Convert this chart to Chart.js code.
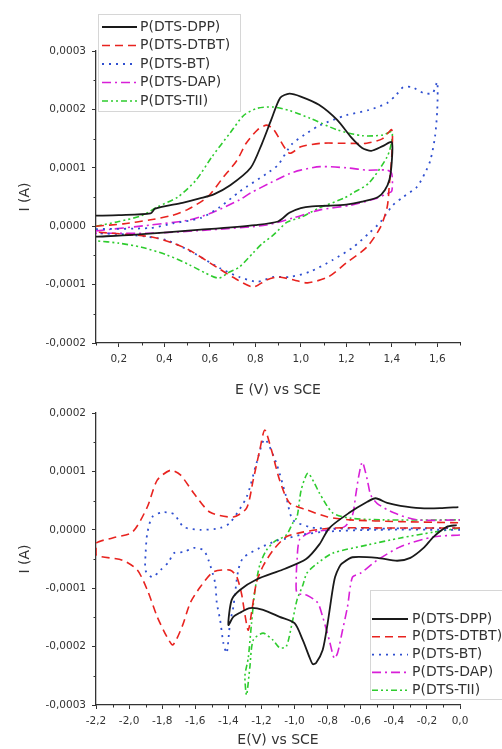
<!DOCTYPE html>
<html><head><meta charset="utf-8">
<script src="https://cdn.jsdelivr.net/npm/chart.js@4.4.1/dist/chart.umd.min.js"></script>
<style>
html,body{margin:0;padding:0;background:#fff;}
#wrap{position:relative;width:502px;height:749px;overflow:hidden;background:#fff;}
canvas{position:absolute;left:0;}
#c1{top:0;}
#c2{top:400px;}
</style></head><body>
<div id="wrap"><canvas id="c1" width="502" height="400"></canvas><canvas id="c2" width="502" height="349"></canvas></div>
<script>
const SERIES = ['P(DTS-DPP)','P(DTS-DTBT)','P(DTS-BT)','P(DTS-DAP)','P(DTS-TII)'];

// ---------- top chart (oxidation) ----------
const topXTicks = [0.2,0.4,0.6,0.8,1.0,1.2,1.4,1.6];
const topXMinor = [0.1,0.3,0.5,0.7,0.9,1.1,1.3,1.5,1.7];
const topYTicks = [-0.0002,-0.0001,0,0.0001,0.0002,0.0003];
const topYMinor = [-0.00015,-0.00005,0.00005,0.00015,0.00025];

const topDppE = [0.10,0.20,0.34,0.36,0.48,0.56,0.62,0.69,0.78,0.83,0.87,0.91,0.95,1.00,1.08,1.16,1.22,1.27,1.31,1.36,1.40,1.40,1.39,1.37,1.34,1.27,1.20,1.12,1.05,1.00,0.95,0.90,0.80,0.56,0.26,0.10];
const topDppI = [0.18e-4,0.19e-4,0.22e-4,0.30e-4,0.40e-4,0.48e-4,0.55e-4,0.70e-4,1.00e-4,1.42e-4,1.82e-4,2.20e-4,2.27e-4,2.22e-4,2.08e-4,1.82e-4,1.53e-4,1.34e-4,1.29e-4,1.37e-4,1.44e-4,1.10e-4,0.80e-4,0.62e-4,0.50e-4,0.42e-4,0.37e-4,0.35e-4,0.34e-4,0.31e-4,0.23e-4,0.08e-4,0.02e-4,-0.06e-4,-0.15e-4,-0.18e-4];

const topDtbtE = [0.10,0.22,0.34,0.43,0.50,0.59,0.66,0.72,0.76,0.81,0.85,0.88,0.95,1.00,1.09,1.19,1.29,1.36,1.40,1.40,1.39,1.38,1.35,1.29,1.20,1.12,1.03,0.97,0.90,0.85,0.79,0.70,0.63,0.51,0.44,0.34,0.10];
const topDtbtI = [0.00e-4,0.04e-4,0.11e-4,0.18e-4,0.28e-4,0.50e-4,0.84e-4,1.13e-4,1.42e-4,1.65e-4,1.73e-4,1.66e-4,1.25e-4,1.36e-4,1.42e-4,1.42e-4,1.42e-4,1.50e-4,1.65e-4,1.20e-4,0.74e-4,0.33e-4,-0.02e-4,-0.36e-4,-0.63e-4,-0.87e-4,-0.97e-4,-0.92e-4,-0.87e-4,-0.92e-4,-1.04e-4,-0.87e-4,-0.70e-4,-0.41e-4,-0.29e-4,-0.18e-4,-0.10e-4];

const topBtE = [0.10,0.34,0.44,0.56,0.645,0.73,0.76,0.85,0.90,0.96,1.03,1.085,1.20,1.30,1.38,1.42,1.45,1.49,1.54,1.58,1.60,1.60,1.59,1.57,1.546,1.51,1.45,1.405,1.35,1.30,1.23,1.14,1.04,0.95,0.88,0.81,0.73,0.645,0.53,0.41,0.26,0.10];
const topBtI = [-0.05e-4,-0.03e-4,0.05e-4,0.14e-4,0.33e-4,0.59e-4,0.67e-4,0.90e-4,1.05e-4,1.40e-4,1.60e-4,1.73e-4,1.90e-4,1.99e-4,2.11e-4,2.25e-4,2.38e-4,2.38e-4,2.28e-4,2.28e-4,2.47e-4,1.99e-4,1.53e-4,1.13e-4,0.91e-4,0.67e-4,0.50e-4,0.36e-4,0.07e-4,-0.12e-4,-0.36e-4,-0.58e-4,-0.78e-4,-0.87e-4,-0.87e-4,-0.95e-4,-0.87e-4,-0.72e-4,-0.46e-4,-0.24e-4,-0.15e-4,-0.12e-4];

const topDapE = [0.10,0.34,0.50,0.61,0.73,0.78,0.865,0.95,1.00,1.085,1.20,1.29,1.38,1.40,1.40,1.375,1.335,1.22,1.085,0.966,0.85,0.61,0.34,0.10];
const topDapI = [-0.08e-4,0.02e-4,0.10e-4,0.23e-4,0.45e-4,0.57e-4,0.74e-4,0.90e-4,0.96e-4,1.02e-4,1.00e-4,0.96e-4,0.96e-4,0.90e-4,0.60e-4,0.55e-4,0.48e-4,0.36e-4,0.28e-4,0.14e-4,0.02e-4,-0.06e-4,-0.12e-4,-0.12e-4];

const topTiiE = [0.10,0.20,0.30,0.37,0.46,0.54,0.61,0.69,0.75,0.81,0.88,0.95,1.04,1.16,1.27,1.36,1.40,1.40,1.38,1.30,1.23,1.19,1.08,1.00,0.94,0.88,0.83,0.79,0.73,0.68,0.64,0.58,0.51,0.41,0.30,0.20,0.10];
const topTiiI = [0.00e-4,0.08e-4,0.18e-4,0.33e-4,0.50e-4,0.79e-4,1.19e-4,1.60e-4,1.90e-4,2.02e-4,2.04e-4,1.98e-4,1.85e-4,1.65e-4,1.55e-4,1.56e-4,1.62e-4,1.45e-4,1.19e-4,0.74e-4,0.57e-4,0.48e-4,0.31e-4,0.15e-4,0.07e-4,-0.15e-4,-0.30e-4,-0.46e-4,-0.70e-4,-0.80e-4,-0.89e-4,-0.80e-4,-0.66e-4,-0.49e-4,-0.36e-4,-0.29e-4,-0.25e-4];

// ---------- bottom chart (reduction) ----------
const botXTicks = [-2.2,-2.0,-1.8,-1.6,-1.4,-1.2,-1.0,-0.8,-0.6,-0.4,-0.2,0.0];
const botXMinor = [-2.1,-1.9,-1.7,-1.5,-1.3,-1.1,-0.9,-0.7,-0.5,-0.3,-0.1];
const botYTicks = [-0.0003,-0.0002,-0.0001,0,0.0001,0.0002];
const botYMinor = [-0.00025,-0.00015,-0.00005,0.00005,0.00015];

const botDppE = [-0.02,-0.08,-0.16,-0.22,-0.30,-0.38,-0.50,-0.65,-0.71,-0.73,-0.755,-0.77,-0.80,-0.83,-0.87,-0.89,-0.91,-0.95,-1.00,-1.09,-1.19,-1.27,-1.33,-1.37,-1.40,-1.38,-1.33,-1.23,-1.07,-0.93,-0.85,-0.79,-0.67,-0.56,-0.51,-0.44,-0.36,-0.24,-0.12,-0.01];
const botDppI = [0.08e-4,0.05e-4,-0.12e-4,-0.31e-4,-0.48e-4,-0.53e-4,-0.48e-4,-0.47e-4,-0.57e-4,-0.64e-4,-0.81e-4,-1.03e-4,-1.60e-4,-2.06e-4,-2.28e-4,-2.30e-4,-2.18e-4,-1.89e-4,-1.60e-4,-1.49e-4,-1.37e-4,-1.34e-4,-1.42e-4,-1.49e-4,-1.63e-4,-1.20e-4,-1.03e-4,-0.85e-4,-0.68e-4,-0.50e-4,-0.25e-4,0.03e-4,0.29e-4,0.48e-4,0.54e-4,0.46e-4,0.41e-4,0.37e-4,0.37e-4,0.39e-4];

const botDtbtE = [0.00,-0.40,-0.77,-0.95,-1.05,-1.13,-1.19,-1.23,-1.26,-1.28,-1.30,-1.32,-1.35,-1.39,-1.49,-1.57,-1.63,-1.68,-1.735,-1.77,-1.83,-1.89,-1.95,-2.04,-2.20,-2.20,-2.10,-1.98,-1.89,-1.83,-1.75,-1.69,-1.61,-1.51,-1.37,-1.29,-1.25,-1.21,-1.18,-1.14,-1.09,-1.03,-0.925,-0.80,-0.665,-0.36,0.00];
const botDtbtI = [0.03e-4,0.03e-4,0.03e-4,-0.04e-4,-0.12e-4,-0.35e-4,-0.62e-4,-0.90e-4,-1.42e-4,-1.72e-4,-1.45e-4,-1.10e-4,-0.80e-4,-0.69e-4,-0.72e-4,-0.98e-4,-1.25e-4,-1.66e-4,-1.97e-4,-1.84e-4,-1.49e-4,-1.03e-4,-0.69e-4,-0.52e-4,-0.43e-4,-0.23e-4,-0.14e-4,-0.04e-4,0.39e-4,0.85e-4,1.02e-4,0.94e-4,0.63e-4,0.30e-4,0.22e-4,0.37e-4,0.85e-4,1.37e-4,1.71e-4,1.37e-4,0.85e-4,0.46e-4,0.34e-4,0.22e-4,0.17e-4,0.14e-4,0.12e-4];

const botBtE = [0.00,-0.50,-0.80,-0.95,-1.05,-1.11,-1.21,-1.31,-1.34,-1.37,-1.39,-1.41,-1.43,-1.45,-1.47,-1.48,-1.52,-1.55,-1.61,-1.67,-1.73,-1.76,-1.81,-1.86,-1.90,-1.90,-1.89,-1.86,-1.80,-1.73,-1.67,-1.57,-1.45,-1.39,-1.29,-1.23,-1.18,-1.11,-1.05,-1.01,-0.91,-0.80,0.00];
const botBtI = [0.00e-4,0.00e-4,-0.03e-4,-0.08e-4,-0.15e-4,-0.19e-4,-0.31e-4,-0.48e-4,-0.69e-4,-1.32e-4,-1.60e-4,-2.11e-4,-1.94e-4,-1.54e-4,-1.25e-4,-0.91e-4,-0.52e-4,-0.35e-4,-0.31e-4,-0.38e-4,-0.40e-4,-0.55e-4,-0.69e-4,-0.81e-4,-0.70e-4,-0.40e-4,-0.06e-4,0.22e-4,0.30e-4,0.27e-4,0.05e-4,0.00e-4,0.03e-4,0.12e-4,0.56e-4,1.14e-4,1.55e-4,1.14e-4,0.56e-4,0.17e-4,0.05e-4,0.02e-4,0.03e-4];

const botDapE = [0.00,-0.16,-0.36,-0.50,-0.60,-0.65,-0.68,-0.71,-0.74,-0.76,-0.79,-0.83,-0.86,-0.925,-0.985,-0.99,-0.985,-0.97,-0.91,-0.85,-0.70,-0.65,-0.63,-0.61,-0.59,-0.56,-0.54,-0.50,-0.40,-0.26,0.00];
const botDapI = [-0.09e-4,-0.12e-4,-0.29e-4,-0.52e-4,-0.74e-4,-0.81e-4,-1.32e-4,-1.72e-4,-2.11e-4,-2.20e-4,-1.89e-4,-1.49e-4,-1.25e-4,-1.12e-4,-1.08e-4,-0.86e-4,-0.52e-4,-0.17e-4,-0.05e-4,-0.02e-4,0.05e-4,0.25e-4,0.60e-4,0.95e-4,1.16e-4,0.85e-4,0.60e-4,0.45e-4,0.29e-4,0.17e-4,0.17e-4];

const botTiiE = [0.00,-0.16,-0.36,-0.56,-0.77,-0.86,-0.925,-0.95,-0.985,-1.015,-1.05,-1.09,-1.13,-1.19,-1.25,-1.27,-1.29,-1.30,-1.28,-1.26,-1.24,-1.21,-1.17,-1.12,-1.05,-1.01,-0.985,-0.96,-0.92,-0.88,-0.85,-0.77,-0.665,-0.465,0.00];
const botTiiI = [0.03e-4,-0.04e-4,-0.14e-4,-0.26e-4,-0.40e-4,-0.57e-4,-0.74e-4,-0.95e-4,-1.20e-4,-1.60e-4,-2.00e-4,-2.02e-4,-1.89e-4,-1.77e-4,-1.89e-4,-2.35e-4,-2.83e-4,-2.50e-4,-2.20e-4,-1.60e-4,-1.05e-4,-0.60e-4,-0.35e-4,-0.20e-4,-0.09e-4,0.12e-4,0.22e-4,0.68e-4,0.97e-4,0.80e-4,0.63e-4,0.29e-4,0.20e-4,0.17e-4,0.17e-4];

const FONT = '"DejaVu Sans", sans-serif';
const INK = '#333';
const STYLES = [
  {color:'#1a1a1a', width:1.8, dash:[]},
  {color:'#e8231f', width:1.6, dash:[8,5]},
  {color:'#2f4fd0', width:1.8, dash:[2,5]},
  {color:'#d81fd8', width:1.6, dash:[9,4,2,4]},
  {color:'#2ecc2e', width:1.6, dash:[6,3,2,3,2,3]}
];

function pts(xs, ys){ return xs.map((x,i)=>({x:x, y:ys[i]})); }
function makeDatasets(list){
  return list.map((pair,i)=>({
    label: SERIES[i], data: pts(pair[0],pair[1]), showLine:true, fill:false,
    borderColor: STYLES[i].color, borderWidth: STYLES[i].width, borderDash: STYLES[i].dash,
    pointRadius:0, pointHoverRadius:0, tension:0.25
  }));
}

const minorTicks = {
  id:'minorTicks',
  afterDraw(chart, args, opts){
    const ctx=chart.ctx, xs=chart.scales.x, ys=chart.scales.y, a=chart.chartArea;
    ctx.save(); ctx.strokeStyle=INK; ctx.lineWidth=1;
    opts.x.forEach(v=>{const p=Math.round(xs.getPixelForValue(v))+0.5; ctx.beginPath(); ctx.moveTo(p,a.bottom); ctx.lineTo(p,a.bottom+opts.len); ctx.stroke();});
    opts.y.forEach(v=>{const p=Math.round(ys.getPixelForValue(v))+0.5; ctx.beginPath(); ctx.moveTo(a.left,p); ctx.lineTo(a.left-opts.len,p); ctx.stroke();});
    ctx.restore();
  }
};

const boxLegend = {
  id:'boxLegend',
  afterDraw(chart, args, o){
    const ctx=chart.ctx;
    ctx.save();
    ctx.fillStyle='#fff'; ctx.fillRect(o.x,o.y,o.w,o.h);
    ctx.strokeStyle='#d6d6d6'; ctx.lineWidth=1; ctx.strokeRect(o.x+0.5,o.y+0.5,o.w,o.h);
    chart.data.datasets.forEach((ds,i)=>{
      const y=o.rowY+i*o.rowH;
      ctx.strokeStyle=ds.borderColor; ctx.lineWidth=ds.borderWidth; ctx.setLineDash(ds.borderDash||[]);
      ctx.beginPath(); ctx.moveTo(o.x0,y); ctx.lineTo(o.x1,y); ctx.stroke();
      ctx.setLineDash([]);
      ctx.fillStyle=INK; ctx.font=o.font; ctx.textBaseline='middle'; ctx.textAlign='left';
      ctx.fillText(ds.label,o.tx,y);
    });
    ctx.restore();
  }
};

function scales(cfg){
  return {
    x:{type:'linear', min:cfg.xMin, max:cfg.xMax,
       afterBuildTicks:s=>{s.ticks=cfg.xTicks.map(v=>({value:v}));},
       afterFit:s=>{s.height=cfg.xH;},
       ticks:{callback:v=>Number(v).toFixed(1).replace('.',','), font:{family:FONT,size:10.5}, color:INK, padding:6, maxRotation:0, autoSkip:false},
       grid:{drawOnChartArea:false, drawTicks:true, tickLength:4, color:INK, tickWidth:1},
       border:{display:true, color:INK, width:1.3},
       title:{display:true, text:cfg.xTitle, font:{family:FONT,size:14}, color:INK, padding:{top:0,bottom:cfg.xTitlePad}}},
    y:{type:'linear', min:cfg.yMin, max:cfg.yMax,
       afterBuildTicks:s=>{s.ticks=cfg.yTicks.map(v=>({value:v}));},
       afterFit:s=>{s.width=96;},
       ticks:{callback:v=>Number(v).toFixed(4).replace('.',','), font:{family:FONT,size:10.5}, color:INK, padding:6, autoSkip:false},
       grid:{drawOnChartArea:false, drawTicks:true, tickLength:4, color:INK, tickWidth:1},
       border:{display:true, color:INK, width:1.3},
       title:{display:true, text:'I (A)', font:{family:FONT,size:14}, color:INK, padding:{top:17,bottom:0}}}
  };
}

new Chart(document.getElementById('c1'), {
  type:'scatter',
  data:{datasets: makeDatasets([[topDppE,topDppI],[topDtbtE,topDtbtI],[topBtE,topBtI],[topDapE,topDapI],[topTiiE,topTiiI]])},
  options:{
    responsive:false, animation:false, devicePixelRatio:1,
    layout:{padding:{top:51,right:42,left:0,bottom:0}},
    scales: scales({xMin:0.1,xMax:1.7,xTicks:topXTicks,yMin:-0.0002,yMax:0.0003,yTicks:topYTicks,xTitle:'E (V) vs SCE',xH:57,xTitlePad:1.6}),
    plugins:{legend:{display:false}, tooltip:{enabled:false},
      minorTicks:{x:topXMinor,y:topYMinor,len:2.5},
      boxLegend:{x:98,y:14,w:142,h:97,rowY:27,rowH:18.5,x0:102,x1:137,tx:140,font:'14px '+FONT}}
  },
  plugins:[minorTicks, boxLegend]
});

new Chart(document.getElementById('c2'), {
  type:'scatter',
  data:{datasets: makeDatasets([[botDppE,botDppI],[botDtbtE,botDtbtI],[botBtE,botBtI],[botDapE,botDapI],[botTiiE,botTiiI]])},
  options:{
    responsive:false, animation:false, devicePixelRatio:1,
    layout:{padding:{top:13,right:42,left:0,bottom:0}},
    scales: scales({xMin:-2.2,xMax:0,xTicks:botXTicks,yMin:-0.0003,yMax:0.0002,yTicks:botYTicks,xTitle:'E(V) vs SCE',xH:44,xTitlePad:0}),
    plugins:{legend:{display:false}, tooltip:{enabled:false},
      minorTicks:{x:botXMinor,y:botYMinor,len:2.5},
      boxLegend:{x:370,y:190,w:140,h:109,rowY:219,rowH:17.8,x0:372,x1:408,tx:412,font:'14px '+FONT}}
  },
  plugins:[minorTicks, boxLegend]
});
</script>
</body></html>
